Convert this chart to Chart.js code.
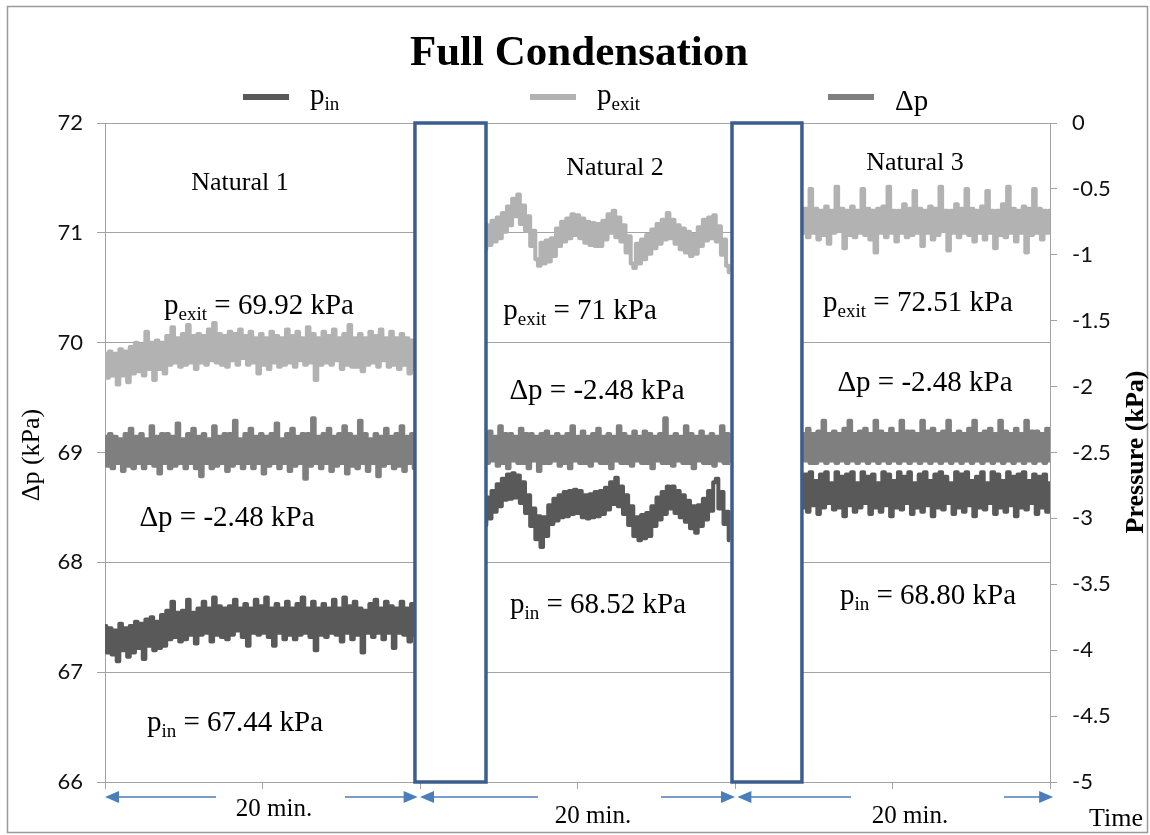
<!DOCTYPE html>
<html>
<head>
<meta charset="utf-8">
<script src="https://cdn.jsdelivr.net/npm/chart.js@4"></script>
<style>
  body { margin: 0; background: #fff; }
  #wrap { width: 1150px; height: 835px; }
</style>
</head>
<body>
<div id="wrap"><canvas id="chart" width="1150" height="835"></canvas></div>
<script>
// time window of each natural run (x axis, arbitrary time units, 6 = full axis)
const segStart = [0, 2.413, 4.432];
const segEnd = [1.968, 3.968, 6.0];

// p_in (kPa), left axis
const pinSeg1 = [
  67.42, 67.18, 67.40, 67.16, 67.38, 67.10, 67.44, 67.20, 67.40, 67.14, 67.42, 67.18,
  67.46, 67.22, 67.44, 67.12, 67.48, 67.24, 67.50, 67.20, 67.46, 67.22, 67.52, 67.24,
  67.56, 67.30, 67.64, 67.32, 67.54, 67.28, 67.56, 67.30, 67.66, 67.34, 67.54, 67.26,
  67.58, 67.34, 67.64, 67.36, 67.58, 67.28, 67.68, 67.34, 67.60, 67.32, 67.58, 67.30,
  67.60, 67.34, 67.66, 67.38, 67.58, 67.32, 67.62, 67.24, 67.58, 67.36, 67.66, 67.34,
  67.60, 67.36, 67.68, 67.32, 67.58, 67.24, 67.62, 67.36, 67.58, 67.30, 67.64, 67.34,
  67.58, 67.30, 67.62, 67.34, 67.68, 67.36, 67.58, 67.32, 67.64, 67.20, 67.58, 67.34,
  67.62, 67.32, 67.58, 67.36, 67.66, 67.34, 67.58, 67.28, 67.68, 67.36, 67.60, 67.30,
  67.64, 67.34, 67.58, 67.18, 67.56, 67.36, 67.62, 67.32, 67.66, 67.36, 67.58, 67.30,
  67.64, 67.36, 67.60, 67.22, 67.58, 67.36, 67.64, 67.34, 67.58, 67.28, 67.62, 67.34
];
const pinSeg2 = [
  68.34, 68.59, 68.40, 68.65, 68.46, 68.71, 68.51, 68.76, 68.57, 68.80, 68.58, 68.81,
  68.59, 68.79, 68.54, 68.73, 68.45, 68.61, 68.33, 68.49, 68.21, 68.42, 68.14, 68.41,
  68.24, 68.52, 68.35, 68.58, 68.38, 68.61, 68.41, 68.64, 68.42, 68.65, 68.44, 68.66,
  68.45, 68.65, 68.41, 68.61, 68.40, 68.62, 68.41, 68.64, 68.42, 68.65, 68.44, 68.68,
  68.48, 68.73, 68.53, 68.77, 68.51, 68.69, 68.44, 68.61, 68.34, 68.51, 68.24, 68.41,
  68.20, 68.43, 68.22, 68.45, 68.24, 68.51, 68.33, 68.59, 68.39, 68.64, 68.44, 68.69,
  68.49, 68.69, 68.45, 68.65, 68.41, 68.61, 68.37, 68.56, 68.31, 68.51, 68.27, 68.52,
  68.33, 68.58, 68.39, 68.65, 68.47, 68.73, 68.76, 68.49, 68.64, 68.35, 68.46, 68.20
];
const pinSeg3 = [
  68.50, 68.80, 68.46, 68.82, 68.52, 68.74, 68.44, 68.80, 68.50, 68.82, 68.54, 68.72,
  68.48, 68.82, 68.50, 68.78, 68.42, 68.80, 68.52, 68.82, 68.46, 68.72, 68.50, 68.82,
  68.54, 68.78, 68.44, 68.80, 68.50, 68.72, 68.46, 68.82, 68.52, 68.80, 68.42, 68.74,
  68.50, 68.82, 68.48, 68.78, 68.54, 68.82, 68.44, 68.72, 68.50, 68.80, 68.46, 68.82,
  68.52, 68.74, 68.42, 68.80, 68.50, 68.82, 68.48, 68.78, 68.54, 68.72, 68.44, 68.82,
  68.50, 68.80, 68.46, 68.82, 68.52, 68.74, 68.42, 68.78, 68.50, 68.82, 68.48, 68.72,
  68.54, 68.82, 68.44, 68.80, 68.50, 68.74, 68.46, 68.82, 68.52, 68.78, 68.42, 68.80,
  68.50, 68.82, 68.48, 68.74, 68.54, 68.80, 68.44, 68.78, 68.50, 68.80, 68.46, 68.72
];

// p_exit (kPa), left axis
const pexitSeg1 = [
  69.90, 69.68, 69.92, 69.70, 69.90, 69.62, 69.94, 69.70, 69.92, 69.64, 69.96, 69.72,
  70.00, 69.74, 69.98, 69.70, 70.10, 69.76, 70.00, 69.66, 70.02, 69.76, 70.00, 69.72,
  70.06, 69.80, 70.14, 69.82, 70.04, 69.78, 70.08, 69.80, 70.16, 69.82, 70.06, 69.76,
  70.08, 69.82, 70.06, 69.80, 70.12, 69.84, 70.18, 69.82, 70.08, 69.80, 70.06, 69.78,
  70.10, 69.84, 70.08, 69.80, 70.12, 69.86, 70.06, 69.80, 70.10, 69.82, 70.04, 69.72,
  70.08, 69.80, 70.04, 69.76, 70.10, 69.82, 70.06, 69.78, 70.04, 69.80, 70.12, 69.82,
  70.06, 69.78, 70.10, 69.84, 70.04, 69.80, 70.14, 69.82, 70.08, 69.66, 70.04, 69.80,
  70.10, 69.82, 70.06, 69.80, 70.12, 69.84, 70.04, 69.76, 70.08, 69.80, 70.16, 69.78,
  70.04, 69.78, 70.08, 69.74, 70.04, 69.80, 70.10, 69.82, 70.06, 69.78, 70.12, 69.84,
  70.04, 69.78, 70.10, 69.80, 70.04, 69.76, 70.08, 69.80, 70.04, 69.72, 70.02, 69.76
];
const pexitSeg2 = [
  70.85, 71.07, 70.89, 71.11, 70.92, 71.14, 70.95, 71.18, 71.01, 71.24, 71.07, 71.31,
  71.15, 71.35, 71.08, 71.25, 71.02, 71.15, 70.88, 71.02, 70.76, 70.70, 70.91, 70.72,
  70.93, 70.74, 70.95, 70.79, 71.04, 70.88, 71.10, 70.92, 71.13, 70.95, 71.17, 70.98,
  71.16, 70.95, 71.13, 70.91, 71.10, 70.89, 71.09, 70.88, 71.08, 70.88, 71.11, 70.94,
  71.17, 71.00, 71.20, 70.96, 71.14, 70.92, 71.07, 70.82, 70.97, 70.72, 70.68, 70.90,
  70.72, 70.94, 70.76, 70.98, 70.81, 71.03, 70.86, 71.08, 70.90, 71.12, 70.94, 71.18,
  70.95, 71.12, 70.90, 71.07, 70.85, 71.04, 70.82, 71.01, 70.79, 70.98, 70.81, 71.05,
  70.88, 71.12, 70.93, 71.14, 70.95, 71.16, 70.92, 71.06, 70.80, 70.94, 70.70, 70.64
];
const pexitSeg3 = [
  71.00, 71.22, 70.96, 71.40, 71.00, 71.22, 70.94, 71.20, 70.98, 71.24, 70.90, 71.20,
  71.00, 71.42, 71.02, 71.22, 70.86, 71.20, 70.98, 71.24, 70.96, 71.20, 71.00, 71.40,
  70.98, 71.22, 70.94, 71.20, 70.82, 71.22, 71.00, 71.24, 70.96, 71.42, 71.00, 71.20,
  70.92, 71.20, 71.00, 71.26, 70.96, 71.22, 70.98, 71.38, 71.00, 71.22, 70.88, 71.20,
  71.00, 71.24, 70.94, 71.22, 70.98, 71.42, 71.02, 71.20, 70.84, 71.20, 71.00, 71.26,
  70.96, 71.22, 71.00, 71.40, 70.98, 71.22, 70.92, 71.20, 71.00, 71.24, 70.94, 71.38,
  71.00, 71.20, 70.86, 71.20, 70.98, 71.26, 70.96, 71.42, 71.00, 71.22, 70.92, 71.20,
  71.00, 71.24, 70.82, 71.22, 70.98, 71.40, 71.00, 71.22, 70.94, 71.20, 71.00, 71.20
];

// delta p (kPa), right axis
const dpSeg1 = [
  -2.38, -2.60, -2.36, -2.62, -2.38, -2.58, -2.40, -2.64, -2.36, -2.60, -2.32, -2.62,
  -2.38, -2.58, -2.36, -2.62, -2.40, -2.58, -2.30, -2.60, -2.38, -2.66, -2.36, -2.58,
  -2.36, -2.62, -2.38, -2.60, -2.28, -2.58, -2.40, -2.62, -2.36, -2.58, -2.32, -2.62,
  -2.38, -2.68, -2.36, -2.58, -2.40, -2.62, -2.30, -2.60, -2.38, -2.58, -2.36, -2.64,
  -2.36, -2.60, -2.26, -2.58, -2.40, -2.62, -2.36, -2.58, -2.32, -2.62, -2.38, -2.58,
  -2.36, -2.66, -2.38, -2.60, -2.36, -2.58, -2.28, -2.62, -2.40, -2.58, -2.36, -2.64,
  -2.32, -2.60, -2.38, -2.58, -2.36, -2.70, -2.36, -2.60, -2.24, -2.58, -2.38, -2.62,
  -2.36, -2.58, -2.32, -2.64, -2.38, -2.60, -2.36, -2.58, -2.30, -2.66, -2.36, -2.60,
  -2.38, -2.62, -2.26, -2.58, -2.36, -2.64, -2.40, -2.58, -2.36, -2.68, -2.38, -2.60,
  -2.32, -2.58, -2.38, -2.62, -2.36, -2.60, -2.30, -2.64, -2.38, -2.58, -2.36, -2.62
];
const dpSeg2 = [
  -2.36, -2.58, -2.34, -2.56, -2.38, -2.60, -2.30, -2.58, -2.36, -2.62, -2.36, -2.56,
  -2.38, -2.58, -2.32, -2.58, -2.36, -2.62, -2.36, -2.56, -2.38, -2.64, -2.36, -2.58,
  -2.34, -2.58, -2.38, -2.56, -2.36, -2.60, -2.38, -2.58, -2.36, -2.62, -2.30, -2.56,
  -2.38, -2.58, -2.34, -2.58, -2.38, -2.60, -2.36, -2.56, -2.32, -2.58, -2.38, -2.58,
  -2.36, -2.62, -2.38, -2.56, -2.30, -2.58, -2.36, -2.58, -2.38, -2.60, -2.34, -2.56,
  -2.38, -2.58, -2.34, -2.58, -2.36, -2.62, -2.38, -2.56, -2.36, -2.58, -2.24, -2.58,
  -2.38, -2.60, -2.36, -2.56, -2.38, -2.58, -2.30, -2.58, -2.36, -2.62, -2.38, -2.56,
  -2.34, -2.58, -2.38, -2.58, -2.36, -2.60, -2.38, -2.56, -2.30, -2.58, -2.36, -2.58
];
const dpSeg3 = [
  -2.36, -2.56, -2.32, -2.58, -2.36, -2.58, -2.34, -2.56, -2.26, -2.58, -2.36, -2.56,
  -2.34, -2.58, -2.36, -2.56, -2.32, -2.58, -2.26, -2.56, -2.36, -2.58, -2.34, -2.56,
  -2.32, -2.58, -2.36, -2.56, -2.26, -2.58, -2.34, -2.56, -2.36, -2.58, -2.32, -2.56,
  -2.36, -2.58, -2.26, -2.56, -2.34, -2.58, -2.34, -2.56, -2.36, -2.58, -2.26, -2.56,
  -2.34, -2.58, -2.32, -2.56, -2.36, -2.58, -2.34, -2.56, -2.26, -2.58, -2.36, -2.56,
  -2.34, -2.58, -2.36, -2.56, -2.32, -2.58, -2.26, -2.56, -2.36, -2.58, -2.34, -2.56,
  -2.32, -2.58, -2.36, -2.56, -2.26, -2.58, -2.34, -2.56, -2.36, -2.58, -2.32, -2.56,
  -2.36, -2.58, -2.26, -2.56, -2.34, -2.58, -2.34, -2.56, -2.36, -2.58, -2.32, -2.56
];

// gaps between the runs, covered by the boxes (x axis units)
const boxStart = [1.968, 3.981];
const boxEnd = [2.419, 4.425];

const serif = '"Liberation Serif", "Times New Roman", serif';
const GRID = '#a3a3a3';

// join the three runs into one {x,y} list with a break between them
function buildSeries(segs) {
  const out = [];
  segs.forEach((vals, k) => {
    const n = vals.length;
    vals.forEach((v, i) => {
      out.push({ x: segStart[k] + (segEnd[k] - segStart[k]) * i / (n - 1), y: v });
    });
    if (k < segs.length - 1) out.push({ x: segEnd[k] + 0.01, y: null });
  });
  return out;
}

// text with subscripts: parts = [[text, isSub], ...]
function rich(ctx, parts, x, y, size, align) {
  const main = size + 'px ' + serif;
  const sub = Math.round(size * 0.66) + 'px ' + serif;
  let w = 0;
  parts.forEach(p => { ctx.font = p[1] ? sub : main; w += ctx.measureText(p[0]).width; });
  let cx = align === 'center' ? x - w / 2 : x;
  ctx.textAlign = 'left';
  ctx.textBaseline = 'alphabetic';
  parts.forEach(p => {
    ctx.font = p[1] ? sub : main;
    ctx.fillText(p[0], cx, p[1] ? y + size * 0.22 : y);
    cx += ctx.measureText(p[0]).width;
  });
}

function arrowHead(ctx, tip, y, dir) {
  ctx.beginPath();
  ctx.moveTo(tip, y);
  ctx.lineTo(tip - dir * 14, y - 6);
  ctx.lineTo(tip - dir * 14, y + 6);
  ctx.closePath();
  ctx.fill();
}

const decor = {
  id: 'decor',
  beforeDraw(chart) {
    const ctx = chart.ctx;
    ctx.save();
    ctx.fillStyle = '#fff';
    ctx.fillRect(0, 0, chart.width, chart.height);
    ctx.strokeStyle = '#9a9a9a';
    ctx.lineWidth = 1.5;
    ctx.strokeRect(7.5, 6.5, 1140, 826);
    ctx.restore();
  },
  afterDatasetsDraw(chart) {
    const ctx = chart.ctx, xs = chart.scales.x, a = chart.chartArea;
    ctx.save();
    ctx.strokeStyle = '#3b5e8f';
    ctx.lineWidth = 3.5;
    ctx.fillStyle = '#fff';
    boxStart.forEach((b, i) => {
      const x0 = xs.getPixelForValue(b), x1 = xs.getPixelForValue(boxEnd[i]);
      ctx.fillRect(x0, a.top, x1 - x0, a.bottom - a.top);
      ctx.strokeRect(x0, a.top, x1 - x0, a.bottom - a.top);
    });
    ctx.restore();
  },
  afterDraw(chart) {
    const ctx = chart.ctx, xs = chart.scales.x;
    ctx.save();
    ctx.fillStyle = '#000';

    // title
    ctx.font = 'bold 43px ' + serif;
    ctx.textAlign = 'center';
    ctx.textBaseline = 'alphabetic';
    ctx.fillText('Full Condensation', 579, 65);

    // legend
    const leg = [
      { c: '#595959', x: 243, parts: [['p'], ['in', 1]] },
      { c: '#b2b2b2', x: 530, parts: [['p'], ['exit', 1]] },
      { c: '#7f7f7f', x: 828, parts: [['\u0394p']] }
    ];
    leg.forEach((l, i) => {
      ctx.strokeStyle = l.c;
      ctx.lineWidth = 6;
      ctx.beginPath();
      ctx.moveTo(l.x, 97);
      ctx.lineTo(l.x + 46, 97);
      ctx.stroke();
      rich(ctx, l.parts, l.x + 67, i === 2 ? 110 : 104, 29, 'left');
    });

    // run labels and mean values
    const notes = [
      [[['Natural 1']], 240, 190, 26],
      [[['Natural 2']], 615, 175, 26],
      [[['Natural 3']], 915, 170, 26],
      [[['p'], ['exit', 1], [' = 69.92 kPa']], 259, 314, 29],
      [[['\u0394p = -2.48 kPa']], 227, 526, 29],
      [[['p'], ['in', 1], [' = 67.44 kPa']], 235, 731, 29],
      [[['p'], ['exit', 1], [' = 71 kPa']], 580, 319, 29],
      [[['\u0394p = -2.48 kPa']], 597, 399, 29],
      [[['p'], ['in', 1], [' = 68.52 kPa']], 598, 613, 29],
      [[['p'], ['exit', 1], [' = 72.51 kPa']], 918, 311, 29],
      [[['\u0394p = -2.48 kPa']], 925, 391, 29],
      [[['p'], ['in', 1], [' = 68.80 kPa']], 928, 604, 29]
    ];
    notes.forEach(n => rich(ctx, n[0], n[1], n[2], n[3], 'center'));

    // axis titles
    ctx.save();
    ctx.translate(39, 455);
    ctx.rotate(-Math.PI / 2);
    ctx.font = '26px ' + serif;
    ctx.textAlign = 'center';
    ctx.fillText('\u0394p (kPa)', 0, 0);
    ctx.restore();
    ctx.save();
    ctx.translate(1143, 452);
    ctx.rotate(-Math.PI / 2);
    ctx.font = 'bold 26px ' + serif;
    ctx.textAlign = 'center';
    ctx.fillText('Pressure (kPa)', 0, 0);
    ctx.restore();

    // 20 min. arrows under the axis
    const spans = [
      { a: 0, b: 1.985, g0: 216, g1: 345, lx: 274, ly: 816 },
      { a: 2.0, b: 4.0, g0: 538, g1: 661, lx: 593, ly: 823 },
      { a: 4.015, b: 6.02, g0: 851, g1: 1004, lx: 910, ly: 823 }
    ];
    const ay = 797;
    ctx.strokeStyle = '#4a7ebb';
    ctx.fillStyle = '#4a7ebb';
    ctx.lineWidth = 1.5;
    spans.forEach(s => {
      const x0 = xs.getPixelForValue(s.a), x1 = xs.getPixelForValue(s.b);
      ctx.beginPath();
      ctx.moveTo(x0 + 10, ay); ctx.lineTo(s.g0, ay);
      ctx.moveTo(s.g1, ay); ctx.lineTo(x1 - 10, ay);
      ctx.stroke();
      arrowHead(ctx, x0, ay, -1);
      arrowHead(ctx, x1, ay, 1);
    });
    ctx.fillStyle = '#000';
    ctx.font = '25px ' + serif;
    ctx.textAlign = 'center';
    spans.forEach(s => ctx.fillText('20 min.', s.lx, s.ly));
    ctx.font = '26px ' + serif;
    ctx.fillText('Time', 1116, 826);
    ctx.restore();
  }
};

new Chart(document.getElementById('chart').getContext('2d'), {
  type: 'line',
  data: {
    datasets: [
      {
        label: 'p_in',
        data: buildSeries([pinSeg1, pinSeg2, pinSeg3]),
        borderColor: '#595959',
        yAxisID: 'y'
      },
      {
        label: 'p_exit',
        data: buildSeries([pexitSeg1, pexitSeg2, pexitSeg3]),
        borderColor: '#b2b2b2',
        yAxisID: 'y'
      },
      {
        label: '\u0394p',
        data: buildSeries([dpSeg1, dpSeg2, dpSeg3]),
        borderColor: '#7f7f7f',
        yAxisID: 'y1'
      }
    ]
  },
  options: {
    responsive: false,
    animation: false,
    spanGaps: false,
    elements: {
      line: { borderWidth: 4, tension: 0, stepped: 'middle', borderJoinStyle: 'round' },
      point: { radius: 0 }
    },
    layout: { padding: { left: 45, right: 40, top: 123, bottom: 43 } },
    plugins: {
      legend: { display: false },
      title: { display: false },
      tooltip: { enabled: false }
    },
    scales: {
      x: {
        type: 'linear',
        min: 0,
        max: 6,
        ticks: { stepSize: 1, callback: () => '' },
        grid: { drawOnChartArea: false, color: GRID, tickLength: 7 },
        border: { color: GRID, width: 1 },
        afterFit: s => { s.height = 10; }
      },
      y: {
        position: 'left',
        min: 66,
        max: 72,
        ticks: { stepSize: 1, padding: 14, color: '#111', font: { family: 'Lato', size: 22 } },
        grid: { color: GRID, tickLength: 8 },
        border: { color: GRID, width: 1 },
        afterFit: s => { s.width = 60; }
      },
      y1: {
        position: 'right',
        min: -5,
        max: 0,
        ticks: {
          stepSize: 0.5, padding: 15, color: '#111', font: { family: 'Lato', size: 22 },
          callback: v => String(v)
        },
        grid: { drawOnChartArea: false, color: GRID, tickLength: 7 },
        border: { color: GRID, width: 1 },
        afterFit: s => { s.width = 60; }
      }
    }
  },
  plugins: [decor]
});
</script>
</body>
</html>
